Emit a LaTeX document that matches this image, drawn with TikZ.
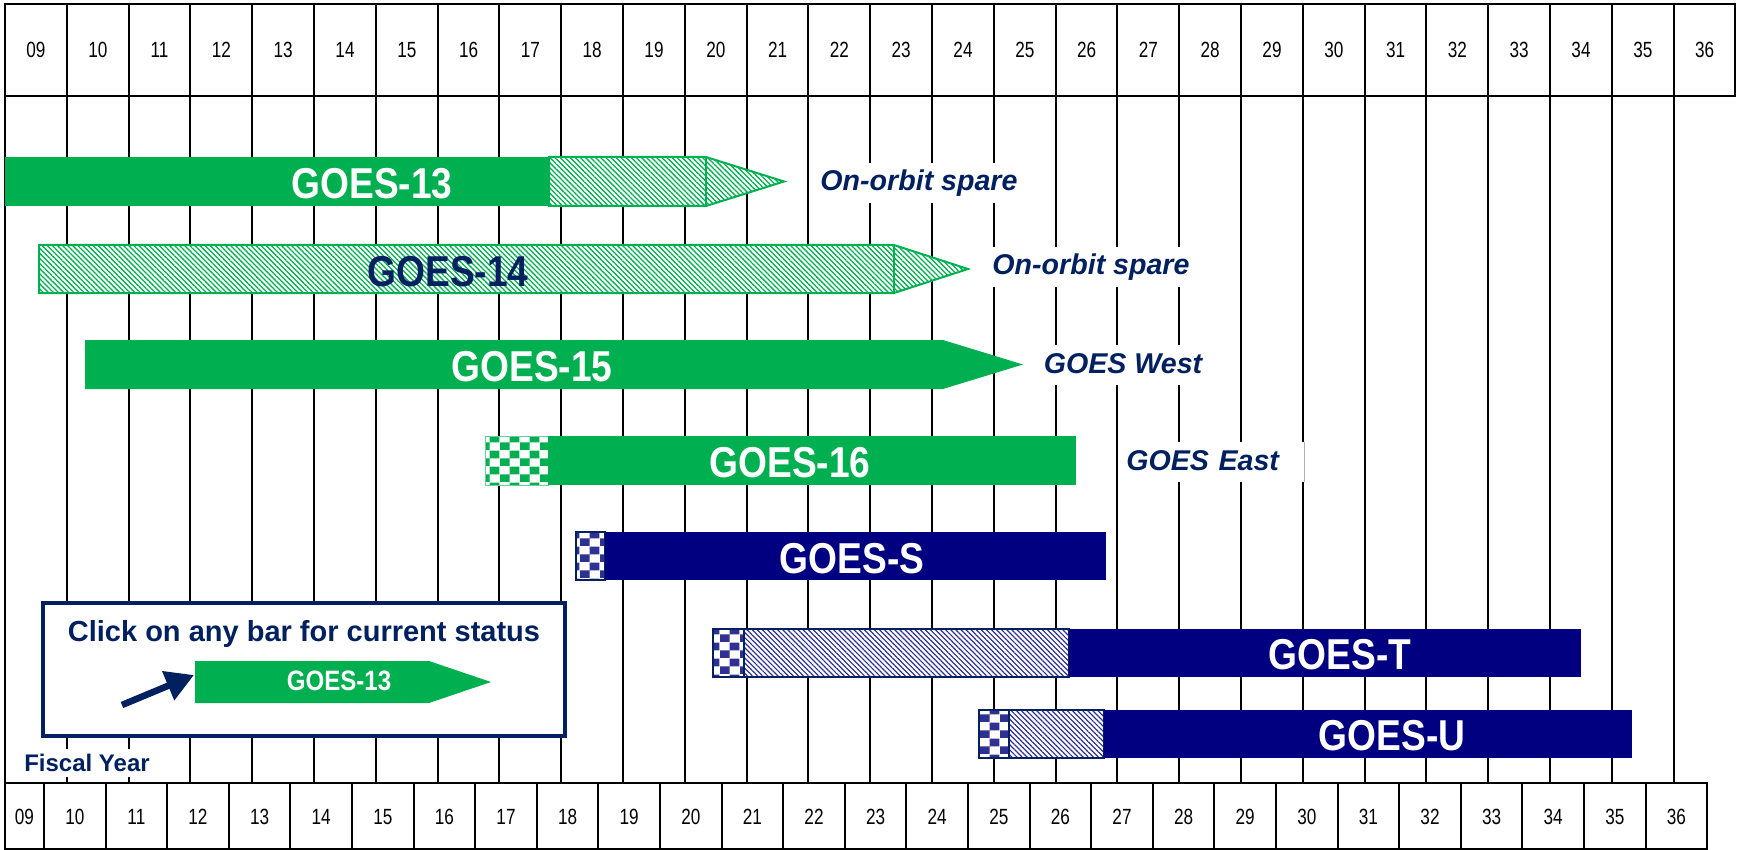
\documentclass[tikz,border=0pt]{standalone}
\usepackage{fontspec}
\usetikzlibrary{patterns.meta,arrows.meta}
\newfontfamily\axisfont[FakeStretch=0.78]{Liberation Sans}
\newfontfamily\barfont[FakeStretch=0.86]{Liberation Sans}
\newfontfamily\notefont{Liberation Sans}
\definecolor{goesgreen}{RGB}{0,176,80}
\definecolor{goesnavy}{RGB}{0,0,128}
\definecolor{textnavy}{RGB}{0,32,96}
\definecolor{checknavy}{RGB}{46,49,146}
\pgfdeclarepattern{
  name=flagchecks,
  type=uncolored,
  bottom left={\pgfpointorigin},
  top right={\pgfqpoint{10pt}{8pt}},
  tile size={\pgfqpoint{10pt}{8pt}},
  code={
    \pgfpathrectangle{\pgfpointorigin}{\pgfqpoint{5pt}{4pt}}
    \pgfpathrectangle{\pgfqpoint{5pt}{4pt}}{\pgfqpoint{5pt}{4pt}}
    \pgfusepath{fill}
  }
}
\begin{document}
\begin{tikzpicture}[x=0.5pt,y=0.5pt,
    gridline/.style={black,line width=1pt},
    yearlabel/.style={font=\axisfont\fontsize{11}{13}\selectfont},
    barlabel/.style={font=\barfont\bfseries\fontsize{21.6}{24}\selectfont,text=white},
    orbitnote/.style={font=\notefont\bfseries\itshape\fontsize{14.3}{17}\selectfont,text=textnavy,
        fill=white,inner sep=3pt,text height=11pt,text depth=3pt},
    greenhatch/.style={draw=goesgreen,line width=1pt,preaction={fill=white},pattern color=goesgreen,
        pattern={Lines[angle=-45,distance=1.8pt,line width=0.65pt]}},
    navyhatch/.style={draw=textnavy,line width=1pt,preaction={fill=white},pattern color=checknavy,
        pattern={Lines[angle=-45,distance=1.8pt,line width=0.6pt]}},
    greencheck/.style={draw=goesgreen!60,line width=0.4pt,preaction={fill=white},pattern=flagchecks,pattern color=goesgreen},
    navycheck/.style={draw=textnavy,line width=0.8pt,preaction={fill=white},pattern=flagchecks,pattern color=checknavy}]
    \tikzstyle{every node}+=[inner sep=0pt]
    \useasboundingbox (0,0) rectangle (1739,-850);
    % year grid
    \draw [gridline] (5,-4) rectangle (1735,-96);
    \draw [gridline] (5,-96) -- (5,-783);
    \foreach \k in {1,...,27}
        \draw [gridline] (5+61.8*\k,-4) -- (5+61.8*\k,-783);
    \foreach \yr [count=\k from 0] in {09,10,11,12,13,14,15,16,17,18,19,20,21,22,23,24,25,26,27,28,29,30,31,32,33,34,35,36}
        \node (top\yr) at (36+61.8*\k,-50) [yearlabel] {\yr};
    \draw [gridline] (5,-783) rectangle (1707,-849);
    \foreach \j in {0,...,26}
        \draw [gridline] (44+61.6*\j,-783) -- (44+61.6*\j,-849);
    \node (bot09) at (24.5,-817) [yearlabel] {09};
    \foreach \yr [count=\k from 0] in {10,11,12,13,14,15,16,17,18,19,20,21,22,23,24,25,26,27,28,29,30,31,32,33,34,35,36}
        \node (bot\yr) at (74.8+61.6*\k,-817) [yearlabel] {\yr};
    % GOES-13
    \fill [goesgreen] (5,-157) rectangle (549,-206);
    \draw [greenhatch] (549,-157) -- (706,-157) -- (784,-181.5) -- (706,-206) -- (549,-206) -- cycle;
    \draw [goesgreen,line width=1pt] (706,-157) -- (706,-206);
    \node (g13) at (372,-184) [barlabel] {GOES-13};
    \node (spare13) at (919,-183) [orbitnote] {On-orbit spare};
    % GOES-14
    \draw [greenhatch] (39,-245) -- (894,-245) -- (968,-269) -- (894,-293) -- (39,-293) -- cycle;
    \draw [goesgreen,line width=1pt] (894,-245) -- (894,-293);
    \node (g14) at (448,-272) [barlabel,text=textnavy] {GOES-14};
    \node (spare14) at (1091,-267) [orbitnote] {On-orbit spare};
    % GOES-15
    \fill [goesgreen] (85,-340) -- (943,-340) -- (1023,-364.5) -- (943,-389) -- (85,-389) -- cycle;
    \node (g15) at (532,-367) [barlabel] {GOES-15};
    \node (west) at (1123,-365) [orbitnote] {GOES West};
    % GOES-16
    \draw [greencheck] (485,-436) rectangle (548,-485);
    \fill [goesgreen] (548,-436) rectangle (1076,-485);
    \node (g16) at (790,-463) [barlabel] {GOES-16};
    \node (east) at (1120,-462) [orbitnote,anchor=west,text width=86pt] {GOES East};
    \draw [gray!60,line width=0.4pt] (east.north east) -- (east.south east);
    % GOES-S
    \draw [navycheck] (576,-532) rectangle (605,-580);
    \fill [goesnavy] (605,-532) rectangle (1106,-580);
    \node (gs) at (852,-559) [barlabel] {GOES-S};
    % GOES-T
    \draw [navycheck] (713,-629) rectangle (744,-677);
    \draw [navyhatch] (744,-629) rectangle (1069,-677);
    \fill [goesnavy] (1069,-629) rectangle (1581,-677);
    \node (gt) at (1340,-655) [barlabel] {GOES-T};
    % GOES-U
    \draw [navycheck] (979,-710) rectangle (1009,-758);
    \draw [navyhatch] (1009,-710) rectangle (1104,-758);
    \fill [goesnavy] (1104,-710) rectangle (1632,-758);
    \node (gu) at (1392,-736) [barlabel] {GOES-U};
    % key
    \node (key) at (304,-669.5) [draw=textnavy,line width=1.7pt,fill=white,minimum width=261pt,minimum height=66.5pt] {};
    \node (keytext) at (304,-634) [font=\notefont\bfseries\fontsize{14.5}{17}\selectfont,text=textnavy] {Click on any bar for current status};
    \fill [goesgreen] (195,-661) -- (429,-661) -- (491,-682) -- (429,-703) -- (195,-703) -- cycle;
    \node (keylabel) at (339,-681) [font=\barfont\bfseries\fontsize{14}{16}\selectfont,text=white] {GOES-13};
    \coordinate (arrowtail) at (122,-705);
    \coordinate (keybar) at (194,-675);
    \draw [textnavy,line width=3.3pt,-{Triangle[length=14pt,width=15pt]}] (arrowtail) -- (keybar);
    \node (fiscalyear) at (87,-763) [font=\notefont\bfseries\fontsize{12}{14}\selectfont,text=textnavy,fill=white,inner sep=2.5pt] {Fiscal Year};
\end{tikzpicture}
\end{document}
